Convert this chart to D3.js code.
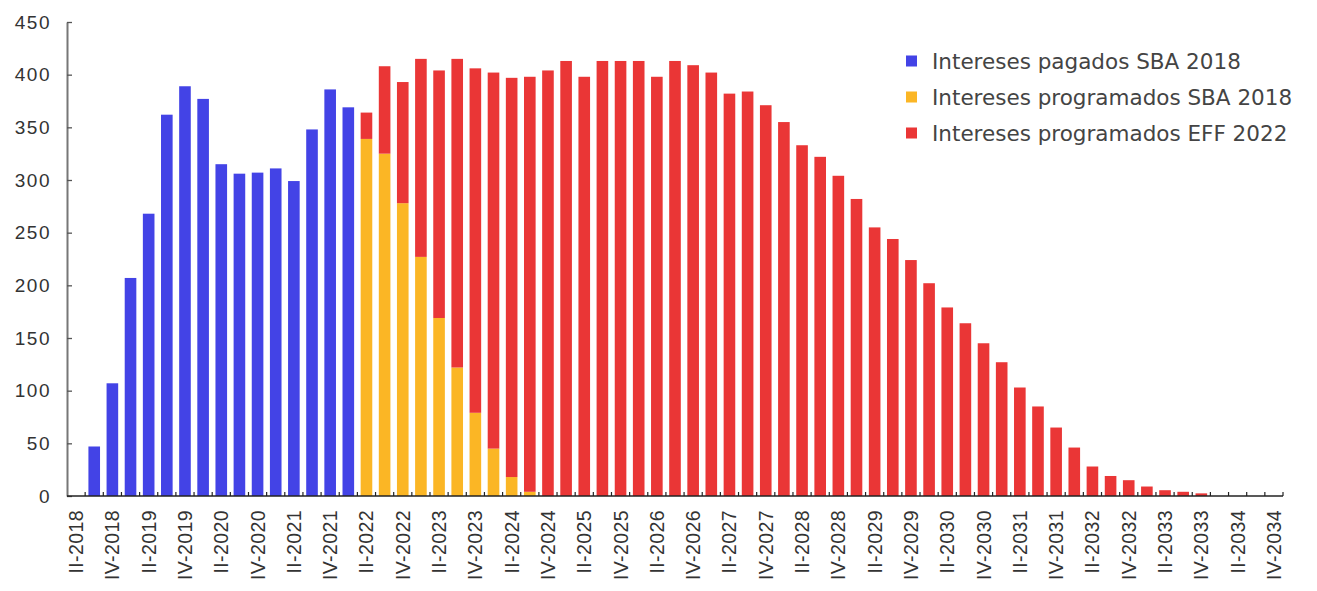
<!DOCTYPE html>
<html>
<head>
<meta charset="utf-8">
<script src="https://cdn.jsdelivr.net/npm/d3@7"></script>
<style>
    html, body { margin: 0; padding: 0; background: #ffffff; overflow: hidden; }
    svg { display: block; font-family: "DejaVu Sans", sans-serif; }
</style>
</head>
<body>
<svg id="interest-chart"></svg>
<script>
// Quarters shown on the x-axis (every other one is labelled)
const quarters = [
    "II-2018", "III-2018", "IV-2018",
    "I-2019", "II-2019", "III-2019", "IV-2019",
    "I-2020", "II-2020", "III-2020", "IV-2020",
    "I-2021", "II-2021", "III-2021", "IV-2021",
    "I-2022", "II-2022", "III-2022", "IV-2022",
    "I-2023", "II-2023", "III-2023", "IV-2023",
    "I-2024", "II-2024", "III-2024", "IV-2024",
    "I-2025", "II-2025", "III-2025", "IV-2025",
    "I-2026", "II-2026", "III-2026", "IV-2026",
    "I-2027", "II-2027", "III-2027", "IV-2027",
    "I-2028", "II-2028", "III-2028", "IV-2028",
    "I-2029", "II-2029", "III-2029", "IV-2029",
    "I-2030", "II-2030", "III-2030", "IV-2030",
    "I-2031", "II-2031", "III-2031", "IV-2031",
    "I-2032", "II-2032", "III-2032", "IV-2032",
    "I-2033", "II-2033", "III-2033", "IV-2033",
    "I-2034", "II-2034", "III-2034", "IV-2034"
];

// Intereses pagados SBA 2018 (II-2018 .. I-2022)
const pagados_sba = [0, 47, 107, 207, 268, 362, 389, 377, 315, 306, 307, 311, 299, 348, 386, 369];

// Intereses programados SBA 2018 (II-2022 .. III-2024)
const programados_sba = [339, 325, 278, 227, 169, 122, 79, 45, 18, 4];

// Intereses programados EFF 2022 (II-2022 .. IV-2034)
const programados_eff = [
    25, 83, 115, 188, 235, 293, 327, 357, 379, 394,
    404, 413, 398, 413, 413, 413, 398, 413, 409, 402,
    382, 384, 371, 355, 333, 322, 304, 282, 255, 244,
    224, 202, 179, 164, 145, 127, 103, 85, 65, 46,
    28, 19, 15, 9, 5.5, 4, 2.5, 0, 0, 0, 0
];

const y_ticks = [0, 50, 100, 150, 200, 250, 300, 350, 400, 450];

const series_names = ["Intereses pagados SBA 2018", "Intereses programados SBA 2018", "Intereses programados EFF 2022"];
const series_colors = ["#4343e6", "#fbb625", "#ea3636"];

// Build one row per quarter for the stack layout
const eff_start = quarters.indexOf("II-2022");
const table = quarters.map((q, i) => ({
    quarter: q,
    pagados: pagados_sba[i] || 0,
    prog_sba: i >= eff_start ? (programados_sba[i - eff_start] || 0) : 0,
    prog_eff: i >= eff_start ? (programados_eff[i - eff_start] || 0) : 0
}));
const keys = ["pagados", "prog_sba", "prog_eff"];
const stacked = d3.stack().keys(keys)(table);

// Dimensions
const chart_width = 1317, chart_height = 591;
const chart_left = 67, chart_right = 1283, chart_top = 22, chart_bottom = 496;

const svg = d3.select("#interest-chart")
    .attr("width", chart_width)
    .attr("height", chart_height);

const x = d3.scaleBand()
    .domain(quarters)
    .range([chart_left, chart_right])
    .paddingInner(0.36)
    .paddingOuter(0.18);

const y = d3.scaleLinear()
    .domain([0, 450])
    .range([chart_bottom, chart_top]);

// Bars
svg.append("g")
    .selectAll("g")
    .data(stacked)
    .join("g")
    .attr("fill", (d, i) => series_colors[i])
    .selectAll("rect")
    .data(d => d.filter(p => p[1] - p[0] > 0))
    .join("rect")
    .attr("x", d => x(d.data.quarter))
    .attr("y", d => y(d[1]))
    .attr("width", x.bandwidth())
    .attr("height", d => y(d[0]) - y(d[1]));

// Y axis
const y_axis = svg.append("g")
    .attr("transform", `translate(${chart_left}, 0)`)
    .call(d3.axisLeft(y).tickValues(y_ticks).tickSize(-5).tickSizeOuter(0).tickPadding(16));
y_axis.select(".domain").attr("stroke", "#777").attr("stroke-width", 2);
y_axis.selectAll(".tick line").attr("stroke", "#555").attr("stroke-width", 1.3);
y_axis.selectAll("text")
    .style("font-size", "19px")
    .style("letter-spacing", "1.5px")
    .attr("fill", "#333");

// X axis: baseline and small ticks between the bars
const half_gap = (x.step() - x.bandwidth()) / 2;
svg.append("line")
    .attr("x1", chart_left).attr("x2", chart_right)
    .attr("y1", chart_bottom).attr("y2", chart_bottom)
    .attr("stroke", "#222").attr("stroke-width", 1.5);
svg.append("g")
    .selectAll("line")
    .data(quarters)
    .join("line")
    .attr("x1", d => x(d) + x.bandwidth() + half_gap)
    .attr("x2", d => x(d) + x.bandwidth() + half_gap)
    .attr("y1", chart_bottom)
    .attr("y2", chart_bottom - 4)
    .attr("stroke", "#222")
    .attr("stroke-width", 1.2);

const x_axis = svg.append("g")
    .attr("transform", `translate(0, ${chart_bottom})`)
    .call(d3.axisBottom(x).tickValues(quarters.filter((d, i) => i % 2 === 0)).tickSize(0));
x_axis.select(".domain").remove();
x_axis.selectAll("text")
    .attr("transform", "rotate(-90)")
    .attr("text-anchor", "end")
    .attr("x", -14)
    .attr("y", 0)
    .attr("dy", "0.36em")
    .style("font-size", "19.5px")
    .style("letter-spacing", "0.4px")
    .attr("fill", "#333");

// Legend
const legend = svg.append("g")
    .selectAll("g")
    .data(series_names)
    .join("g")
    .attr("transform", (d, i) => `translate(906, ${61 + i * 36})`);
legend.append("rect")
    .attr("x", 0).attr("y", -5.5)
    .attr("width", 11).attr("height", 11)
    .attr("fill", (d, i) => series_colors[i]);
legend.append("text")
    .attr("x", 26)
    .attr("dy", "0.36em")
    .style("font-size", "21.5px")
    .attr("fill", "#444")
    .text(d => d);
</script>
</body>
</html>
